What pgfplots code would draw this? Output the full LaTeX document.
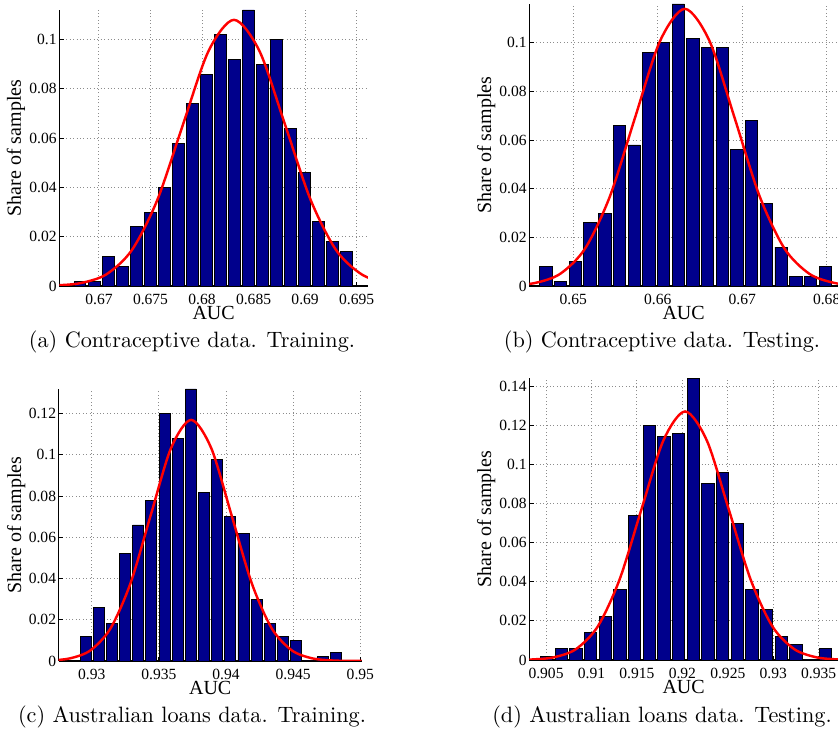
\documentclass[border=0pt]{standalone}
\usepackage{fontspec}
\usepackage{pgfplots}
\pgfplotsset{compat=1.18}
\newfontfamily\tnr{Liberation Serif}
\definecolor{barblue}{RGB}{0,0,140}

\pgfplotsset{
  hist/.style={
    scale only axis,
    anchor=south west,
    axis x line*=bottom,
    axis y line*=left,
    axis line style={-, line width=0.5pt, black},
    tick align=inside,
    major tick length=2pt,
    tick style={black, line width=0.4pt},
    grid=major,
    major grid style={dash pattern=on 0.45pt off 1.1pt, black!45, line width=0.45pt},
    ymin=0,
    scaled ticks=false,
    ticklabel style={font=\tnr\fontsize{7}{8}\selectfont},
    /pgf/number format/assume math mode=true,
    /pgf/number format/fixed,
    /pgf/number format/precision=3,
    label style={font=\tnr\fontsize{9}{10}\selectfont},
    xlabel={AUC},
    ylabel={Share of samples},
    xlabel style={at={(axis description cs:0.5,0)}, anchor=center, yshift=-12.15pt},
    ylabel style={at={(axis description cs:-0.14,0.5)}, anchor=center},
    yticklabel style={inner sep=1pt},
  },
  bars/.style={ybar, bar width=#1, fill=barblue, draw=black, line width=0.4pt},
  fit/.style={red, line width=1.1pt, smooth, mark=none},
}

\begin{document}
\begin{tikzpicture}

% (a) Contraceptive data. Training.
\begin{axis}[hist, at={(26.685pt,202.05pt)}, width=138.9pt, height=124.2pt,
  xmin=0.66615, xmax=0.6961, ymax=0.112,
  xtick={0.67,0.675,0.68,0.685,0.69,0.695},
  ytick={0,0.02,0.04,0.06,0.08,0.1}]
\addplot[bars=0.001144] table {
x y
0.66816 0.002
0.669522 0.002
0.670884 0.012
0.672246 0.008
0.673608 0.024
0.67497 0.030
0.676332 0.040
0.677694 0.058
0.679056 0.074
0.680418 0.086
0.68178 0.102
0.683142 0.092
0.684504 0.112
0.685866 0.090
0.687228 0.100
0.68859 0.064
0.689952 0.046
0.691314 0.026
0.692676 0.018
0.694038 0.014
};
\addplot[fit] table {
x y
0.6633 0.000037
0.665775 0.000237
0.66825 0.0012
0.670725 0.004746
0.6732 0.014617
0.675675 0.035062
0.67815 0.065505
0.680625 0.09531
0.6831 0.108
0.685575 0.09531
0.68805 0.065505
0.690525 0.035062
0.693 0.014617
0.695475 0.004746
0.69795 0.0012
0.700425 0.000237
0.7029 0.000037
};
\end{axis}

% (b) Contraceptive data. Testing.
\begin{axis}[hist, at={(238.185pt,202.05pt)}, width=138.9pt, height=126.9pt,
  xmin=0.64479, xmax=0.68134, ymax=0.116,
  xtick={0.65,0.66,0.67,0.68},
  ytick={0,0.02,0.04,0.06,0.08,0.1}]
\addplot[bars=0.001462] table {
x y
0.64677 0.008
0.64851 0.002
0.65025 0.010
0.65199 0.026
0.65373 0.030
0.65547 0.066
0.65721 0.058
0.65895 0.096
0.66069 0.100
0.66243 0.116
0.66417 0.102
0.66591 0.098
0.66765 0.098
0.66939 0.056
0.67113 0.068
0.67287 0.034
0.67461 0.016
0.67635 0.004
0.67809 0.004
0.67983 0.008
};
\addplot[fit] table {
x y
0.6396 0.000039
0.64255 0.00025
0.6455 0.001267
0.64845 0.005009
0.6514 0.015429
0.65435 0.03701
0.6573 0.069144
0.66025 0.100605
0.6632 0.114
0.66615 0.100605
0.6691 0.069144
0.67205 0.03701
0.675 0.015429
0.67795 0.005009
0.6809 0.001267
0.68385 0.00025
0.6868 0.000039
};
\end{axis}

% (c) Australian loans data. Training.
\begin{axis}[hist, at={(26.415pt,33.3pt)}, width=136.35pt, height=122.4pt,
  xmin=0.92754, xmax=0.9501, ymax=0.132,
  xtick={0.93,0.935,0.94,0.945,0.95},
  ytick={0,0.02,0.04,0.06,0.08,0.1,0.12}]
\addplot[bars=0.000823] table {
x y
0.92954 0.012
0.93052 0.026
0.9315 0.018
0.93248 0.052
0.93346 0.066
0.93444 0.078
0.93542 0.120
0.9364 0.108
0.93738 0.132
0.93836 0.082
0.93934 0.098
0.94032 0.070
0.9413 0.062
0.94228 0.030
0.94326 0.018
0.94424 0.012
0.94522 0.010
0.9462 0
0.94718 0.002
0.94816 0.004
};
\addplot[fit] table {
x y
0.9254 0.00004
0.9269 0.000256
0.9284 0.0013
0.9299 0.005141
0.9314 0.015835
0.9329 0.037984
0.9344 0.070964
0.9359 0.103253
0.9374 0.117
0.9389 0.103253
0.9404 0.070964
0.9419 0.037984
0.9434 0.015835
0.9449 0.005141
0.9464 0.0013
0.9479 0.000256
0.9494 0.00004
0.9509 0.000005
};
\end{axis}

% (d) Australian loans data. Testing.
\begin{axis}[hist, at={(238.185pt,33.75pt)}, width=138.9pt, height=126.8pt,
  xmin=0.90316, xmax=0.93712, ymax=0.144,
  xtick={0.905,0.91,0.915,0.92,0.925,0.93,0.935},
  ytick={0,0.02,0.04,0.06,0.08,0.1,0.12,0.14}]
\addplot[bars=0.001355] table {
x y
0.90508 0.002
0.906693 0.006
0.908306 0.006
0.909919 0.014
0.911532 0.022
0.913145 0.036
0.914758 0.074
0.916371 0.120
0.917984 0.114
0.919597 0.116
0.92121 0.144
0.922823 0.090
0.924436 0.096
0.926049 0.070
0.927662 0.036
0.929275 0.026
0.930888 0.012
0.932501 0.008
0.934114 0
0.935727 0.006
};
\addplot[fit] table {
x y
0.9011 0.000043
0.9035 0.000278
0.9059 0.001411
0.9083 0.00558
0.9107 0.017188
0.9131 0.04123
0.9155 0.077029
0.9179 0.112078
0.9203 0.127
0.9227 0.112078
0.9251 0.077029
0.9275 0.04123
0.9299 0.017188
0.9323 0.00558
0.9347 0.001411
0.9371 0.000278
0.9395 0.000043
};
\end{axis}

\node[anchor=base, font=\fontsize{10}{12}\selectfont] at (86.4pt,174.375pt) {(a) Contraceptive data. Training.};
\node[anchor=base, font=\fontsize{10}{12}\selectfont] at (297.9pt,174.375pt) {(b) Contraceptive data. Testing.};
\node[anchor=base, font=\fontsize{10}{12}\selectfont] at (86.4pt,5.625pt) {(c) Australian loans data. Training.};
\node[anchor=base, font=\fontsize{10}{12}\selectfont] at (297.9pt,5.625pt) {(d) Australian loans data. Testing.};

\pgfresetboundingbox
\useasboundingbox (0pt,0pt) rectangle (377.1pt,330.75pt);
\end{tikzpicture}
\end{document}
